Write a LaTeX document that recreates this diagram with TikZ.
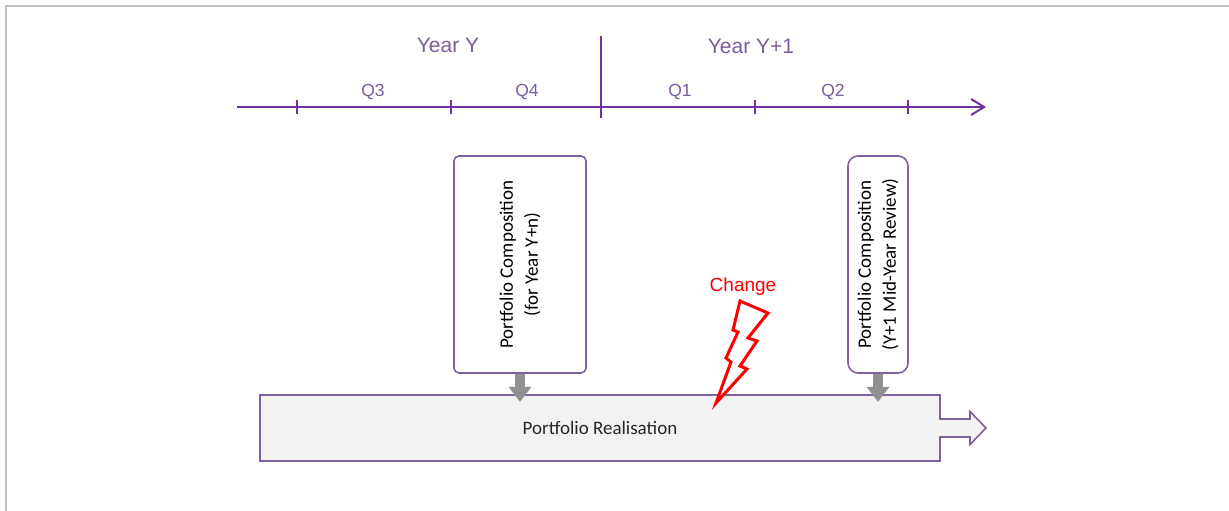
\documentclass[tikz,border=0pt]{standalone}
\usepackage{fontspec}
\setmainfont{Carlito}
\newfontfamily\arialfont{Liberation Sans}
\usetikzlibrary{arrows.meta}
\definecolor{tlpurple}{HTML}{7030A0}
\definecolor{lblpurple}{HTML}{7B5C9C}
\definecolor{boxpurple}{HTML}{7F60A0}
\definecolor{barfill}{HTML}{F2F2F2}
\definecolor{bartext}{HTML}{262626}
\definecolor{arrgrey}{HTML}{8E9092}
\definecolor{framegrey}{HTML}{C0C0C0}
\tikzset{
	tl/.style={tlpurple,line width=2pt},
	yearlbl/.style={text=lblpurple,font=\arialfont\fontsize{21}{25}\selectfont},
	qlbl/.style={text=lblpurple,font=\arialfont\fontsize{17.5}{21}\selectfont},
	compbox/.style 2 args={draw=boxpurple,line width=1.6pt,fill=white,rounded corners=#1,minimum width=#2,minimum height=217pt,inner sep=0pt},
	comptext/.style={rotate=90,align=center,inner sep=0pt,font=\fontsize{19}{25}\selectfont},
	feed/.style={arrgrey,line width=10pt,-{Triangle[length=15pt,width=22pt]},shorten >=-7pt},
	bolt/.style={red,line width=3pt,fill=white,line join=miter}
}

\begin{document}
\begin{tikzpicture}[x=1pt,y=-1pt]
	\useasboundingbox (0,0) rectangle (1229,511);
	\draw [framegrey, line width=2pt] (6,511) -- (6,6) -- (1229,6);

	\draw [tl, -{Straight Barb[length=13pt,width=16pt]}] (237,107) -- (986,107);
	\foreach \x in {297,451,755,908}
		\draw [tl] (\x,100) -- (\x,114);
	\draw [tl] (601,36) -- (601,118);

	\node [yearlbl] (yr) at (448,45) {Year Y};
	\node [yearlbl] (yrnext) at (751,46) {Year Y+1};
	\foreach \q/\x in {3/373,4/527,1/680,2/833}
		\node [qlbl] (q\q) at (\x,92) {Q\q};

	\node [compbox={5pt}{132pt}] (comp1) at (520,264.5) {};
	\node [comptext] at (comp1.center) {Portfolio Composition\\(for Year Y+n)};
	\node [compbox={10pt}{60pt}] (comp2) at (878,264.5) {};
	\node [comptext] at (comp2.center) {Portfolio Composition\\(Y+1 Mid-Year Review)};

	\draw [boxpurple, line width=1.6pt, fill=barfill] (260,395) -- (940,395) -- (940,419) -- (970,419) -- (970,411.5) -- (986,428) -- (970,444.5) -- (970,437) -- (940,437) -- (940,461) -- (260,461) -- cycle;
	\node [text=bartext, font=\fontsize{19}{25}\selectfont, minimum width=680pt, minimum height=66pt] (real) at (600,428) {Portfolio Realisation};

	\draw [feed] (comp1.south) -- (comp1.south |- real.north);
	\draw [feed] (comp2.south) -- (comp2.south |- real.north);

	\draw [bolt] (740,301) -- (768,313) -- (748,338) -- (757,341) -- (740,366) -- (747,369) -- (716,403) -- (731,362) -- (726,358) -- (738,332) -- (733,330) -- cycle;
	\node [text=red, font=\arialfont\fontsize{19}{23}\selectfont] (chg) at (743,286.5) {Change};
\end{tikzpicture}
\end{document}
